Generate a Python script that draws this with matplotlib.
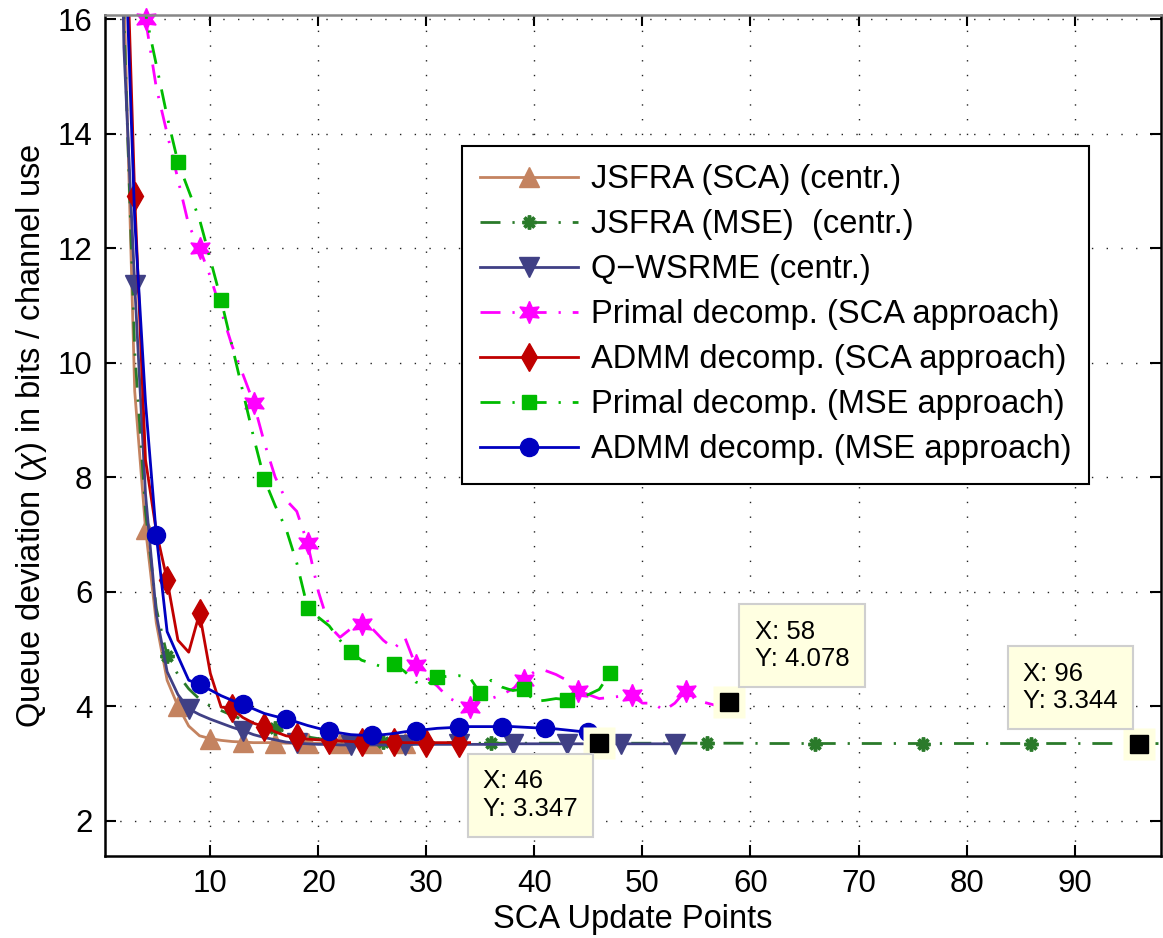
import matplotlib
matplotlib.use("Agg")
import matplotlib.pyplot as plt

plt.rcParams['font.family'] = ['Liberation Sans', 'DejaVu Sans']
plt.rcParams['mathtext.fontset'] = 'custom'
plt.rcParams['mathtext.it'] = 'Liberation Sans:italic'
plt.rcParams['mathtext.rm'] = 'Liberation Sans'

# ---------------- data ----------------
labels = ["JSFRA (SCA) (centr.)", "JSFRA (MSE)  (centr.)", "Q\u2212WSRME (centr.)",
          "Primal decomp. (SCA approach)", "ADMM decomp. (SCA approach)",
          "Primal decomp. (MSE approach)", "ADMM decomp. (MSE approach)"]

jsfra_sca = [28, 16.5, 9.5, 7.1, 5.45, 4.45, 4.0, 3.65, 3.48, 3.43, 3.40, 3.38, 3.37, 3.36,
             3.36, 3.36, 3.35, 3.35, 3.35, 3.35, 3.35, 3.35, 3.35, 3.35, 3.35, 3.35, 3.35,
             3.35, 3.35]
jsfra_sca_start = 1

jsfra_mse = [28, 16, 10.2, 7.4, 5.7, 4.88, 4.55, 4.3, 4.12, 4.0, 3.92, 3.84, 3.76, 3.70,
             3.65, 3.61, 3.55, 3.50, 3.46, 3.43, 3.41, 3.39, 3.38, 3.37, 3.36, 3.37, 3.36,
             3.36, 3.36, 3.36, 3.36, 3.36, 3.36, 3.35, 3.35, 3.35, 3.35, 3.35, 3.35, 3.35,
             3.35, 3.35, 3.35, 3.35, 3.35, 3.35, 3.35, 3.35, 3.35, 3.35, 3.35, 3.35, 3.35,
             3.35, 3.35, 3.35, 3.35, 3.35, 3.35, 3.35, 3.345, 3.345, 3.345, 3.345, 3.345,
             3.345, 3.345, 3.345, 3.345, 3.345, 3.345, 3.345, 3.345, 3.345, 3.345, 3.345,
             3.345, 3.345, 3.345, 3.345, 3.345, 3.345, 3.345, 3.345, 3.345, 3.345, 3.345,
             3.345, 3.345, 3.345, 3.345, 3.345, 3.345, 3.345, 3.345, 3.344, 3.344, 3.344]
jsfra_mse_start = 1

q_wsrme = [26, 15.5, 11.35, 7.7, 5.6, 4.6, 4.2, 3.95, 3.85, 3.77, 3.70, 3.63, 3.57, 3.50,
           3.45, 3.41, 3.37, 3.35, 3.34, 3.33, 3.33, 3.32, 3.32, 3.32, 3.32, 3.32, 3.32,
           3.32, 3.33, 3.33, 3.33, 3.33, 3.33, 3.33, 3.33, 3.33, 3.33, 3.34, 3.34, 3.34,
           3.34, 3.34, 3.34, 3.34, 3.34, 3.347, 3.34, 3.34, 3.34, 3.34, 3.34, 3.34, 3.34]
q_wsrme_start = 1

primal_sca = [16.0, 14.8, 14.0, 13.2, 12.4, 12.0, 11.5, 10.9, 10.3, 9.8, 9.3, 8.6, 8.0, 7.6,
              7.4, 6.84, 6.0, 5.4, 5.2, 5.35, 5.44, 5.35, 5.15, 5.0, 5.2, 4.71, 4.5, 4.35,
              4.15, 4.05, 3.99, 4.12, 4.13, 4.2, 4.3, 4.45, 4.6, 4.62, 4.55, 4.45, 4.27,
              4.2, 4.13, 4.15, 4.17, 4.19, 4.05, 4.05, 3.92, 4.05, 4.27, 4.1, 4.05, 4.0,
              4.078]
primal_sca_start = 4

admm_sca = [30, 19, 12.9, 8.3, 7.05, 6.2, 5.15, 4.94, 5.62, 4.57, 3.98, 3.96, 3.8, 3.7,
            3.64, 3.55, 3.48, 3.45, 3.42, 3.41, 3.40, 3.39, 3.38, 3.37, 3.37, 3.37, 3.37,
            3.36, 3.36, 3.36, 3.36, 3.36, 3.36, 3.36]
admm_sca_start = 1

primal_mse = [30, 22, 17.5, 16.1, 15.2, 14.3, 13.5, 13.0, 12.5, 11.8, 11.09, 10.3, 9.5, 8.7,
              7.96, 7.5, 7.1, 6.5, 5.72, 5.55, 5.4, 5.15, 4.94, 4.8, 4.74, 4.68, 4.74, 4.6,
              4.42, 4.36, 4.5, 4.52, 4.53, 4.5, 4.22, 4.45, 4.33, 4.27, 4.3, 4.08, 4.1,
              4.13, 4.11, 4.15, 4.2, 4.29, 4.57]
primal_mse_start = 1

admm_mse = [30, 18, 12.5, 9.3, 6.98, 5.3, 4.87, 4.45, 4.38, 4.28, 4.18, 4.1, 4.03, 3.95,
            3.87, 3.82, 3.78, 3.72, 3.66, 3.61, 3.57, 3.53, 3.5, 3.49, 3.49, 3.5, 3.52,
            3.55, 3.57, 3.59, 3.61, 3.62, 3.63, 3.64, 3.64, 3.64, 3.64, 3.64, 3.63, 3.62,
            3.61, 3.6, 3.58, 3.56, 3.54]
admm_mse_start = 1

# data tips (x, y)
tip_x = [58, 96, 46]
tip_y = [4.078, 3.344, 3.347]
tip_text = ["X: 58\nY: 4.078", "X: 96\nY: 3.344", "X: 46\nY: 3.347"]

xticks = [10, 20, 30, 40, 50, 60, 70, 80, 90]
yticks = [2, 4, 6, 8, 10, 12, 14, 16]

# ---------------- figure ----------------
fig = plt.figure(figsize=(11.63, 9.38), dpi=100)
ax = fig.add_axes([105/1163, 1 - 856/938, (1161-105)/1163, (856-15)/938])

def xs(vals, start):
    return list(range(start, start + len(vals)))

dashdot = (0, (7.2, 4.3, 0.8, 4.3))
lw = 2.0

series = [
    (jsfra_sca, jsfra_sca_start, dict(color='#C48360', ls='-', marker='^', ms=14, markevery=(0, 3))),
    (jsfra_mse, jsfra_mse_start, dict(color='#2A7A2A', ls=dashdot, marker=(8, 2, 0), ms=10, mew=2.5, markevery=(5, 10))),
    (q_wsrme, q_wsrme_start, dict(color='#404085', ls='-', marker='v', ms=14, markevery=(2, 5))),
    (primal_sca, primal_sca_start, dict(color='#FF00FF', ls=dashdot, marker=(6, 1, 0), ms=16, markevery=(0, 5), clip_on=False)),
    (admm_sca, admm_sca_start, dict(color='#C00000', ls='-', marker='d', ms=14, markevery=(2, 3))),
    (primal_mse, primal_mse_start, dict(color='#00BB00', ls=dashdot, marker='s', ms=10, markevery=(2, 4))),
    (admm_mse, admm_mse_start, dict(color='#0000C0', ls='-', marker='o', ms=13, markevery=(0, 4))),
]

handles = []
for (vals, start, kw), lab in zip(series, labels):
    kw = dict(kw)
    kw.setdefault('mew', 1)
    h, = ax.plot(xs(vals, start), vals, lw=lw, label=lab,
                 markerfacecolor=kw['color'], markeredgecolor=kw['color'], **kw)
    handles.append(h)

# data tips
offsets = [(73, 56), (-69, 56), (-69, -52)]
for x, y, t, off in zip(tip_x, tip_y, tip_text, offsets):
    ax.plot([x], [y], marker='s', ms=23, color='#FFFFE1', mec='none', zorder=10, clip_on=False)
    ax.plot([x], [y], marker='s', ms=12.5, color='black', mec='black', zorder=11, clip_on=False)
    ax.annotate(t, xy=(x, y), xytext=off, textcoords='offset pixels',
                ha='center', va='center', multialignment='left', fontsize=18.5,
                linespacing=1.2,
                bbox=dict(boxstyle='square,pad=0.6', fc='#FFFFE1', ec='#CFCFCF', lw=1.5),
                zorder=12)

ax.set_xlim(0.25, 98)
ax.set_ylim(1.38, 16.07)
ax.set_xticks(xticks)
ax.set_yticks(yticks)
ax.grid(True, color='#222222', linestyle=(0, (1, 9.6)), linewidth=1.0)
ax.tick_params(direction='in', length=8, width=1.5, labelsize=22.5, top=True, right=True,
               pad=9)
for s in ax.spines.values():
    s.set_linewidth(1.8)
ax.spines['top'].set_color('#888888')

ax.set_xlabel('SCA Update Points', fontsize=23.5, labelpad=4)
ax.set_ylabel(r'Queue deviation ($\chi$) in bits / channel use', fontsize=23.5, labelpad=6)

leg = ax.legend(handles=handles, loc='upper left', bbox_to_anchor=(462/1163, 1 - 146/938),
                bbox_transform=fig.transFigure, fontsize=23.5, numpoints=1,
                handlelength=3.0, handletextpad=0.38, labelspacing=0.43, borderpad=0.56,
                borderaxespad=0, fancybox=False, framealpha=1, edgecolor='black')
leg.get_frame().set_linewidth(1.5)

fig.savefig('out.png', dpi=100)
